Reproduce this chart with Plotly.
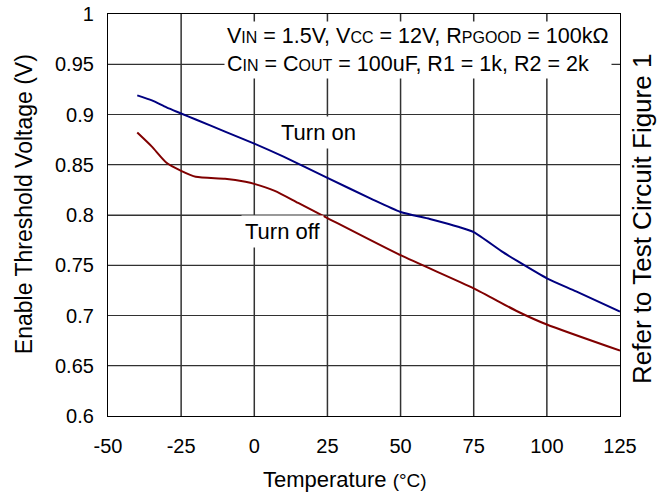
import plotly.graph_objects as go

temp_on = [-40, -35, -30, -25, -20, -10, 0, 10, 25, 40, 50, 60, 70, 75, 85, 90, 100, 110, 125]
v_on = [0.919, 0.914, 0.907, 0.901, 0.895, 0.883, 0.871, 0.858, 0.837, 0.816, 0.803, 0.796, 0.788, 0.783, 0.763, 0.754, 0.737, 0.724, 0.704]

temp_off = [-40, -35, -30, -25, -20, -10, -3, 0, 7, 15, 25, 50, 75, 90, 100, 125]
v_off = [0.882, 0.868, 0.852, 0.844, 0.838, 0.836, 0.833, 0.831, 0.824, 0.812, 0.797, 0.760, 0.727, 0.704, 0.691, 0.665]

x_ticks = [-50, -25, 0, 25, 50, 75, 100, 125]
x_tick_text = ["-50", "-25", "0", "25", "50", "75", "100", "125"]
y_ticks = [0.6, 0.65, 0.7, 0.75, 0.8, 0.85, 0.9, 0.95, 1.0]
y_tick_text = ["0.6", "0.65", "0.7", "0.75", "0.8", "0.85", "0.9", "0.95", "1"]

FONT = "Arial, Liberation Sans, sans-serif"
GRID = "rgb(50,50,50)"

fig = go.Figure()

# vertical grid lines at the x tick positions
for xv in x_ticks[1:-1]:
    fig.add_shape(type="line", xref="x", yref="y", x0=xv, x1=xv, y0=y_ticks[0], y1=y_ticks[-1],
                  line=dict(color=GRID, width=1.5), layer="below")

# horizontal grid lines at the y tick positions (as a line trace under the curves)
gx, gy = [], []
for yv in y_ticks[1:-1]:
    gx += [x_ticks[0], x_ticks[-1], None]
    gy += [yv, yv, None]
fig.add_trace(go.Scatter(x=gx, y=gy, mode="lines", line=dict(color=GRID, width=1.2),
                         hoverinfo="skip", showlegend=False))

fig.add_trace(go.Scatter(x=temp_on, y=v_on, mode="lines", line=dict(color="#000080", width=2, shape="spline", smoothing=0.6), showlegend=False))
fig.add_trace(go.Scatter(x=temp_off, y=v_off, mode="lines", line=dict(color="#800000", width=2, shape="spline", smoothing=0.6), showlegend=False))

def sm(t):
    return '<span style="font-size:16px">' + t + '</span>'

cond = ("V" + sm("IN") + " = 1.5V, V" + sm("CC") + " = 12V, R" + sm("PGOOD") + " = 100kΩ<br>"
        "C" + sm("IN") + " = C" + sm("OUT") + " = 100uF, R1 = 1k, R2 = 2k")

fig.add_annotation(xref="paper", yref="paper", x=0.984, y=0.983, xanchor="right", yanchor="top",
                   text=cond, showarrow=False, align="left", bgcolor="white",
                   font=dict(family=FONT, size=21.5, color="black"), borderpad=2)
fig.add_annotation(x=22, y=0.882, text="Turn on", showarrow=False, bgcolor="white",
                   font=dict(family=FONT, size=22, color="black"), borderpad=3)
fig.add_annotation(x=9.7, y=0.784, text="Turn off", showarrow=False, bgcolor="white",
                   font=dict(family=FONT, size=22, color="black"), borderpad=3)
fig.add_annotation(xref="paper", yref="paper", x=1.043, y=0.49, xanchor="center", yanchor="middle",
                   text="Refer to Test Circuit Figure 1", textangle=-90, showarrow=False,
                   font=dict(family=FONT, size=26, color="black"))
# axis titles
fig.add_annotation(xref="paper", yref="paper", x=0.463, y=-0.157, xanchor="center", yanchor="middle",
                   text='Temperature <span style="font-size:19px">(°C)</span>', showarrow=False,
                   font=dict(family=FONT, size=22, color="black"))
fig.add_annotation(xref="paper", yref="paper", x=-0.164, y=0.527, xanchor="center", yanchor="middle",
                   text="Enable Threshold Voltage (V)", textangle=-90, showarrow=False,
                   font=dict(family=FONT, size=23, color="black"))

fig.update_layout(
    width=665, height=501,
    margin=dict(l=108, r=45, t=14, b=85, autoexpand=False),
    paper_bgcolor="white", plot_bgcolor="rgba(0,0,0,0)",
    font=dict(family=FONT, size=20, color="black"),
)
fig.update_xaxes(range=[-50, 125], tickvals=x_ticks, ticktext=x_tick_text, showgrid=False,
                 showline=True, linecolor="black", linewidth=1.2, mirror=True, zeroline=False,
                 ticks="", tickfont=dict(size=20), ticklabelstandoff=12, automargin=False)
fig.update_yaxes(range=[0.6, 1.0], tickvals=y_ticks, ticktext=y_tick_text, showgrid=True,
                 gridcolor=GRID, gridwidth=1.2,
                 showline=True, linecolor="black", linewidth=1.2, mirror=True, zeroline=False,
                 ticks="", tickfont=dict(size=20), ticklabelstandoff=9, automargin=False)

fig.write_html("out.html", config={"displayModeBar": False}, post_script="document.body.style.margin='0px';")
